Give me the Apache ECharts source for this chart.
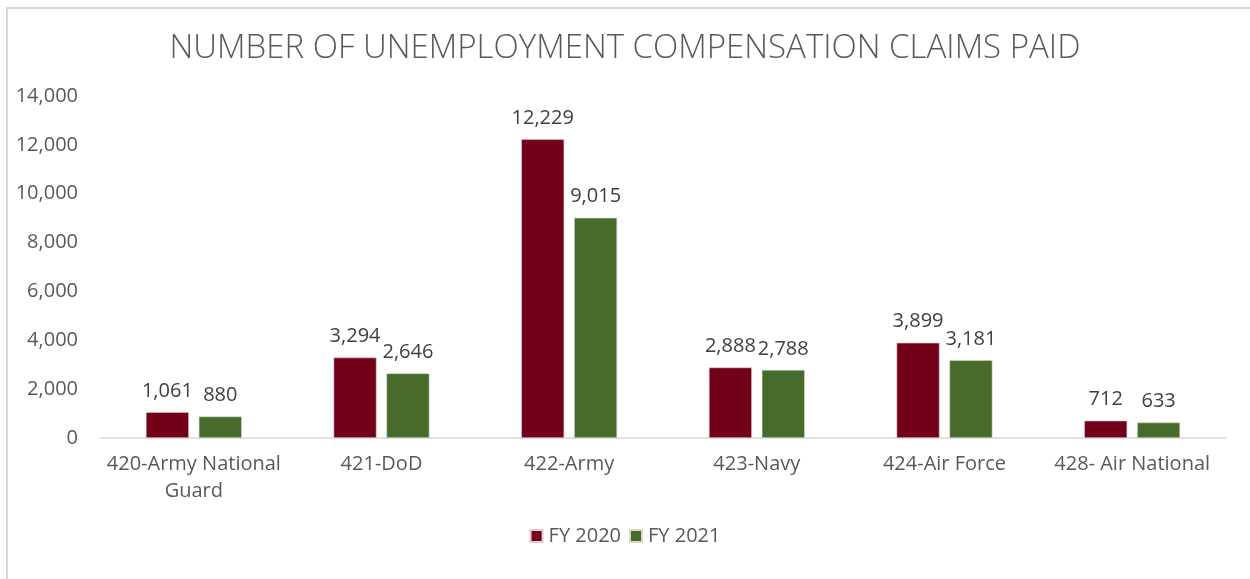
<!DOCTYPE html>
<html>
<head>
<meta charset="utf-8">
<script src="https://cdn.jsdelivr.net/npm/echarts@6/dist/echarts.min.js"></script>
<style>
html,body{margin:0;padding:0;background:#fff;}
#frame{position:absolute;left:6px;top:7px;width:1244px;height:572px;border-left:2px solid #d9d9d9;border-top:2px solid #d9d9d9;box-sizing:border-box;}
#chart{position:absolute;left:0;top:0;width:1250px;height:579px;}
</style>
</head>
<body>
<div id="frame"></div>
<div id="chart"></div>
<script>
const categories = ['420-Army National\nGuard', '421-DoD', '422-Army', '423-Navy', '424-Air Force', '428- Air National'];
const fy2020 = [1061, 3294, 12229, 2888, 3899, 712];
const fy2021 = [880, 2646, 9015, 2788, 3181, 633];
const seriesNames = ['FY 2020', 'FY 2021'];
const yTicks = {min: 0, max: 14000, interval: 2000};

const FONT = 'Open Sans';
const TXT = '#595959';
const chart = echarts.init(document.getElementById('chart'), null, {renderer: 'canvas'});
const fmt = v => v.toLocaleString('en-US');
const labelCfg = {
  show: true, position: 'top', distance: 11,
  color: '#404040', fontFamily: FONT, fontSize: 20,
  formatter: p => fmt(p.value)
};
chart.setOption({
  backgroundColor: 'transparent',
  animation: false,
  title: {
    text: 'NUMBER OF UNEMPLOYMENT COMPENSATION CLAIMS PAID',
    left: 'center', top: 27,
    textStyle: {fontFamily: FONT, fontWeight: 300, fontSize: 33, color: TXT}
  },
  legend: {
    data: seriesNames, bottom: 28, left: 'center',
    itemWidth: 12, itemHeight: 12, itemGap: 8, icon: 'rect',
    textStyle: {fontFamily: FONT, fontSize: 20, color: TXT, padding: [0, 0, 0, 1]}
  },
  grid: {left: 100, right: 24, top: 96, bottom: 141, containLabel: false},
  xAxis: {
    type: 'category', data: categories,
    axisLine: {lineStyle: {color: '#d9d9d9', width: 1.5}},
    axisTick: {show: false},
    axisLabel: {fontFamily: FONT, fontSize: 20, color: TXT, margin: 13, lineHeight: 27, interval: 0}
  },
  yAxis: {
    type: 'value', min: yTicks.min, max: yTicks.max, interval: yTicks.interval,
    splitLine: {show: false},
    axisLine: {show: false}, axisTick: {show: false},
    axisLabel: {fontFamily: FONT, fontSize: 20, color: TXT, margin: 22, formatter: v => fmt(v)}
  },
  series: [
    {name: seriesNames[0], type: 'bar', data: fy2020, barWidth: 43, barGap: '23%',
     itemStyle: {color: '#730019', borderColor: '#e8c9cf', borderWidth: 0.6}, label: labelCfg},
    {name: seriesNames[1], type: 'bar', data: fy2021, barWidth: 43, barGap: '23%',
     itemStyle: {color: '#466b2a', borderColor: '#d3dccb', borderWidth: 0.6}, label: labelCfg}
  ]
});
</script>
</body>
</html>
